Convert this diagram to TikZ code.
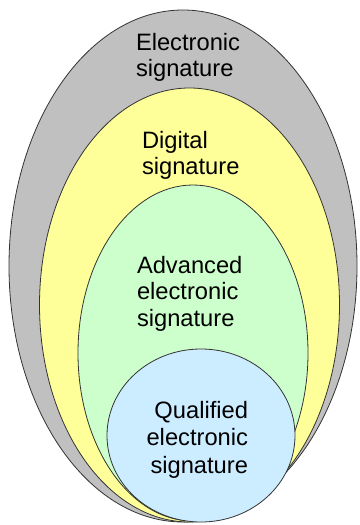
\documentclass[tikz,border=0pt]{standalone}
\usepackage{fontspec}
\setmainfont{Liberation Sans}
\definecolor{esgray}{RGB}{192,192,192}
\definecolor{esyellow}{RGB}{255,255,153}
\definecolor{esgreen}{RGB}{204,255,204}
\definecolor{esblue}{RGB}{204,236,255}
\tikzset{
  layer/.style={draw=black!80, line width=0.8pt},
  lbl/.style={inner sep=0pt, outer sep=0pt, font=\fontsize{23.7}{26.5}\selectfont},
}
\begin{document}
\begin{tikzpicture}[x=1pt,y=-1pt]
\useasboundingbox (0,0) rectangle (359,525);
\fill[white] (0,0) rectangle (359,525);
\draw[layer, fill=esgray]   (183,266) ellipse [x radius=174pt, y radius=256pt];
\draw[layer, fill=esyellow] (189.5,305) ellipse [x radius=150pt, y radius=217pt];
\draw[layer, fill=esgreen]  (193,353) ellipse [x radius=115pt, y radius=168pt];
\draw[layer, fill=esblue]   (201,435.5) ellipse [x radius=94pt, y radius=86.5pt];
\node[lbl, anchor=base west] (es) at (136,50)
  {\begin{tabular}[t]{@{}l@{}}Electronic\\signature\end{tabular}};
\node[lbl, anchor=base west] (ds) at (142,148)
  {\begin{tabular}[t]{@{}l@{}}Digital\\signature\end{tabular}};
\node[lbl, anchor=base west] (aes) at (137,273)
  {\begin{tabular}[t]{@{}l@{}}Advanced\\electronic\\signature\end{tabular}};
\node[lbl, anchor=base east, font=\fontsize{23.7}{27.5}\selectfont] (qes) at (248,418)
  {\begin{tabular}[t]{@{}r@{}}Qualified\\electronic\\signature\end{tabular}};
\end{tikzpicture}
\end{document}
